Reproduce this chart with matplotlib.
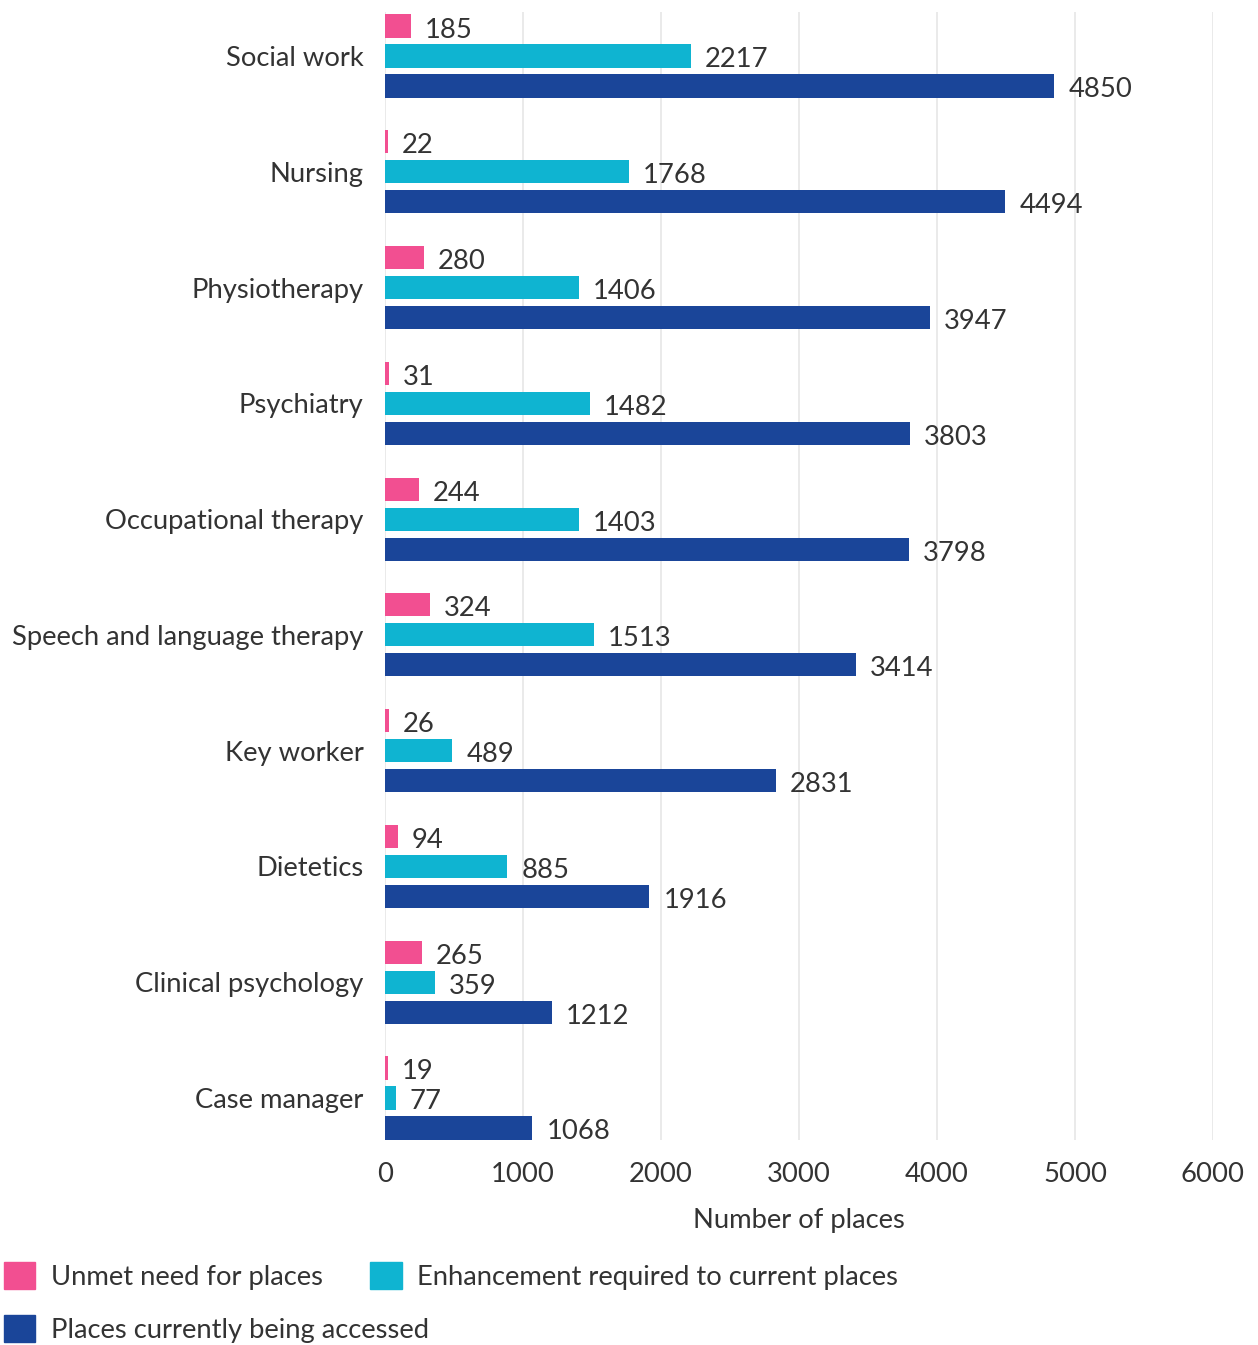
import matplotlib
matplotlib.use("Agg")
import matplotlib.pyplot as plt
from matplotlib.patches import Patch
import numpy as np

categories = ["Social work", "Nursing", "Physiotherapy", "Psychiatry", "Occupational therapy",
              "Speech and language therapy", "Key worker", "Dietetics", "Clinical psychology", "Case manager"]
unmet = [185, 22, 280, 31, 244, 324, 26, 94, 265, 19]
enhancement = [2217, 1768, 1406, 1482, 1403, 1513, 489, 885, 359, 77]
current = [4850, 4494, 3947, 3803, 3798, 3414, 2831, 1916, 1212, 1068]
series_names = ["Unmet need for places", "Enhancement required to current places", "Places currently being accessed"]
colors = ["#F24F91", "#0FB4D1", "#1A4599"]
xticks = [0, 1000, 2000, 3000, 4000, 5000, 6000]

plt.rcParams['font.family'] = ['Lato', 'DejaVu Sans']
txt = "#333333"
fs = 19.7

fig = plt.figure(figsize=(12.58, 13.45), dpi=100)
ax = fig.add_axes([385/1258, 1-1140/1345, (1213-385)/1258, (1140-12)/1345])

y = np.arange(len(categories))
off = 0.259
h = 0.2
series = [unmet, enhancement, current]
for k, (vals, col) in enumerate(zip(series, colors)):
    pos = y + (k - 1) * off
    ax.barh(pos, vals, height=h, color=col, zorder=3)
    for p, v in zip(pos, vals):
        ax.annotate(str(v), (v, p), xytext=(14, -4), textcoords='offset pixels',
                    ha='left', va='center', fontsize=fs, color=txt)

ax.set_xlim(0, 6000)
ax.set_ylim(len(categories) - 1 + 0.363, -0.38)
ax.set_xticks(xticks)
ax.set_xticklabels([str(t) for t in xticks], fontsize=fs, color=txt)
ax.set_yticks(y)
ax.set_yticklabels(categories, fontsize=fs, color=txt)
ax.tick_params(axis='both', length=0)
ax.tick_params(axis='y', pad=15.5)
ax.tick_params(axis='x', pad=16)
for s in ax.spines.values():
    s.set_visible(False)
ax.grid(axis='x', color='#E6E6E6', linewidth=1.2, zorder=0)
ax.set_axisbelow(True)
ax.set_xlabel("Number of places", fontsize=fs, color=txt, labelpad=15)

common = dict(loc='upper left', frameon=False, fontsize=fs, labelcolor=txt,
              handlelength=1.15, handleheight=1.15, handletextpad=0.55,
              borderaxespad=0, borderpad=0)
leg1 = fig.legend([Patch(color=colors[0]), Patch(color=colors[1])], [series_names[0], series_names[1]],
                  ncol=2, columnspacing=1.75, bbox_to_anchor=(4/1258, 1-1262/1345), **common)
leg2 = fig.legend([Patch(color=colors[2])], [series_names[2]],
                  ncol=1, bbox_to_anchor=(4/1258, 1-1315/1345), **common)

fig.savefig("out.png", dpi=100)
